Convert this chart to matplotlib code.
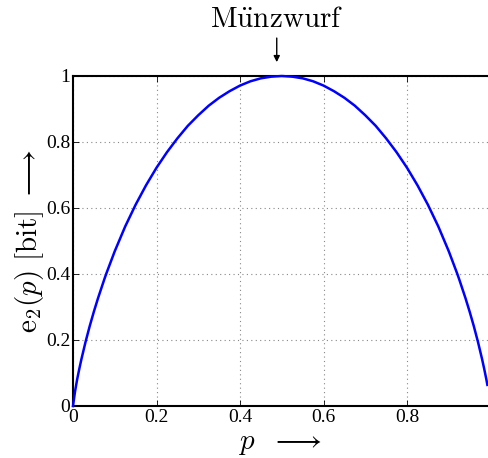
import matplotlib
matplotlib.use("Agg")
import matplotlib.pyplot as plt

plt.rcParams['mathtext.fontset'] = 'cm'

# Values
p = [0.0, 0.005, 0.01, 0.015, 0.02, 0.03, 0.04, 0.05, 0.06, 0.075, 0.08, 0.1,
     0.125, 0.15, 0.175, 0.2, 0.225, 0.25, 0.275, 0.3, 0.325, 0.35, 0.375,
     0.4, 0.425, 0.45, 0.475, 0.5, 0.525, 0.55, 0.575, 0.6, 0.625, 0.65,
     0.675, 0.7, 0.725, 0.75, 0.775, 0.8, 0.825, 0.85, 0.875, 0.9, 0.92,
     0.925, 0.94, 0.95, 0.96, 0.97, 0.98, 0.985, 0.99, 0.9925]
e2 = [0.0, 0.045, 0.081, 0.112, 0.141, 0.194, 0.242, 0.286, 0.327, 0.384, 0.402, 0.469,
      0.544, 0.610, 0.669, 0.722, 0.769, 0.811, 0.849, 0.881, 0.910, 0.934, 0.954,
      0.971, 0.984, 0.993, 0.998, 1.0, 0.998, 0.993, 0.984, 0.971, 0.954, 0.934,
      0.910, 0.881, 0.849, 0.811, 0.769, 0.722, 0.669, 0.610, 0.544, 0.469, 0.402,
      0.384, 0.327, 0.286, 0.242, 0.194, 0.141, 0.112, 0.081, 0.064]
xticks = [0, 0.2, 0.4, 0.6, 0.8]
xticklabels = ['0', '0.2', '0.4', '0.6', '0.8']
yticks = [0, 0.2, 0.4, 0.6, 0.8, 1]
yticklabels = ['0', '0.2', '0.4', '0.6', '0.8', '1']

fig = plt.figure(figsize=(4.88, 4.58), dpi=100)
ax = fig.add_axes([73/488, 1-406/458, 1-73/488, (406-76)/458])
ax.plot(p, e2, color='#0000ff', lw=1.8, clip_on=False, zorder=3)
ax.set_xlim(0, 0.994)
ax.set_ylim(0, 1)
ax.set_xticks(xticks)
ax.set_xticklabels(xticklabels, family='Liberation Serif', fontsize=14)
ax.set_yticks(yticks)
ax.set_yticklabels(yticklabels, family='Liberation Serif', fontsize=14)
ax.tick_params(direction='in', top=True, right=False, length=4, width=0.6, pad=2)
ax.spines['right'].set_visible(False)
for s in ['left', 'bottom', 'top']:
    ax.spines[s].set_linewidth(1.5)
ax.grid(True, ls=(0, (1, 3)), color='#888888', lw=0.8)

ax.set_xlabel(r'$p\ \ \longrightarrow$', fontsize=21, labelpad=2)
ax.set_ylabel(r'$\mathrm{e}_2(p)\ [\mathrm{bit}]\ \longrightarrow$', fontsize=21, labelpad=0)

ax.text(0.488, 1.13, r'$\mathrm{M\ddot{u}nzwurf}$', transform=ax.get_xaxis_transform(),
        ha='center', va='bottom', fontsize=21)
ax.annotate('', xy=(0.488, 1.042), xycoords=('data', 'axes fraction'),
            xytext=(0.488, 1.115), textcoords=('data', 'axes fraction'),
            arrowprops=dict(arrowstyle='-|>', color='black', lw=1, mutation_scale=9,
                            shrinkA=0, shrinkB=0))

fig.savefig('out.png', dpi=100)
